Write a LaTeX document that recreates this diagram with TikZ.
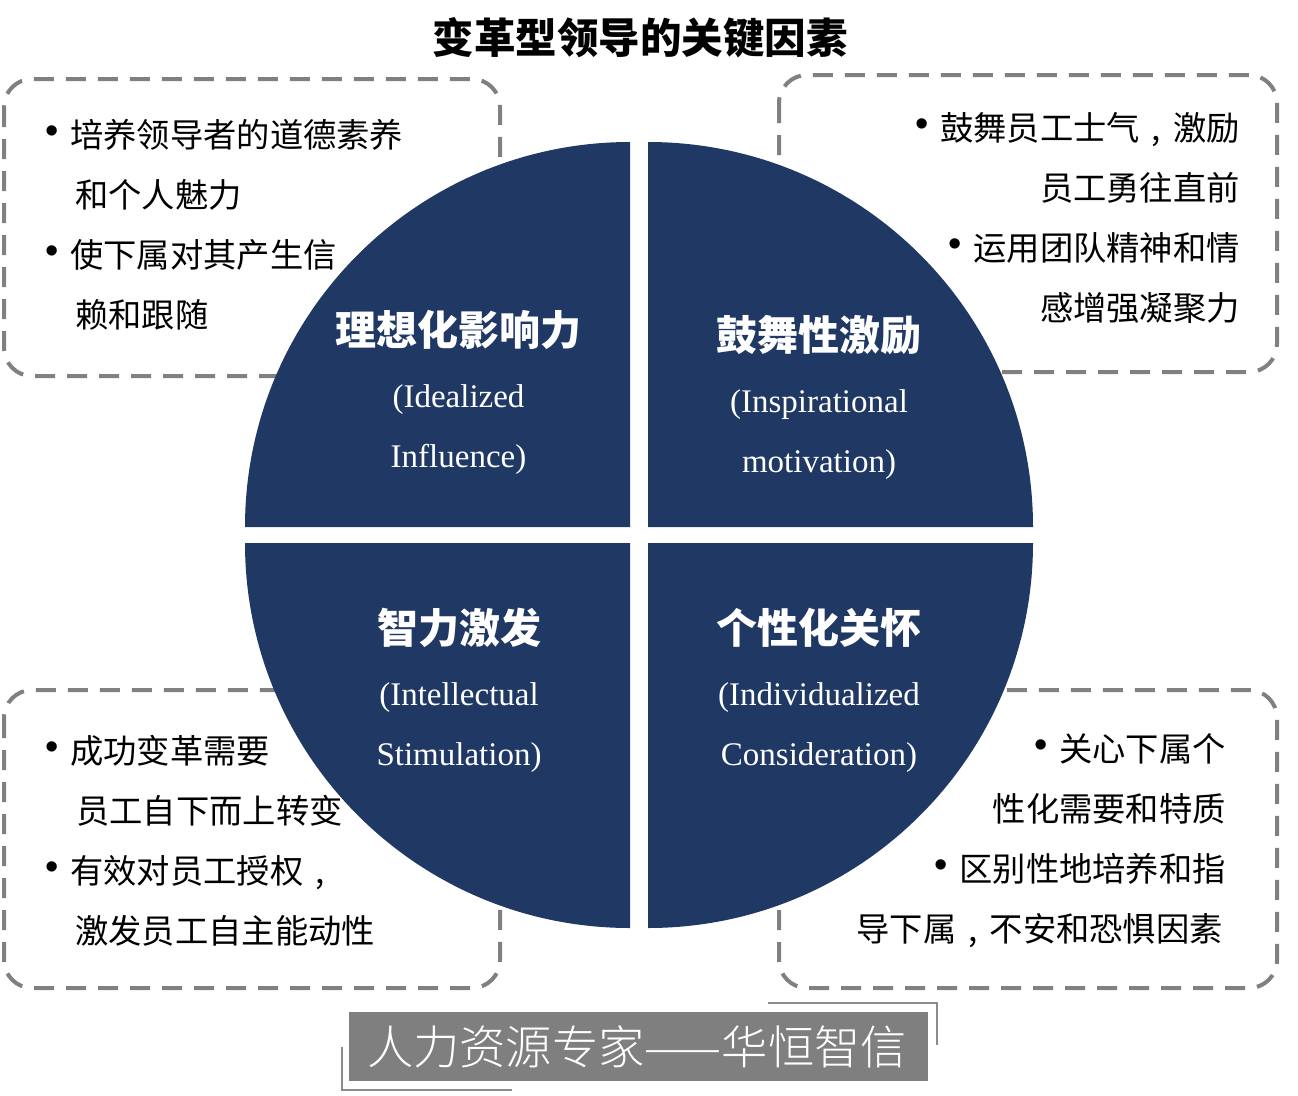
\documentclass[tikz,border=0pt]{standalone}
\usepackage{fontspec}
\setmainfont{Liberation Serif}
\newfontfamily\cjk{Noto Sans CJK SC}
\newfontfamily\cjkblack{Noto Sans CJK SC Black}
\newfontfamily\cjklight{Noto Sans CJK SC Light}
\newfontfamily\bulletfont{Liberation Sans}
\newcommand{\cmm}{\makebox[1em][c]{,}}
\definecolor{navy}{RGB}{32,56,100}
\definecolor{dashgray}{RGB}{128,128,128}
\definecolor{wmgray}{RGB}{127,127,127}
\definecolor{wmline}{RGB}{140,140,140}
\begin{document}
\begin{tikzpicture}[x=1pt,y=1pt,
  dashbox/.style={draw=dashgray, line width=4pt, dash pattern=on 20pt off 12pt, rounded corners=28pt},
  quad/.style={fill=navy},
  bodytext/.style={inner sep=0pt, font=\cjk\fontsize{33.3}{40}\selectfont, text=black},
  bul/.style={inner sep=0pt, font=\bulletfont\fontsize{38}{40}\selectfont, text=black},
  headcn/.style={inner sep=0pt, anchor=base, font=\cjkblack\fontsize{41}{48}\selectfont, text=white},
  headen/.style={inner sep=0pt, anchor=base, font=\fontsize{33}{40}\selectfont, text=white},
  titletext/.style={inner sep=0pt, anchor=base, font=\cjkblack\fontsize{41.5}{48}\selectfont, text=black},
  wmtext/.style={inner sep=0pt, anchor=base, font=\cjklight\fontsize{46.3}{50}\selectfont, text=white},
  wmbracket/.style={draw=wmline, line width=2pt}
]
\useasboundingbox (0,0) rectangle (1298,-1095);
\fill[white] (0,0) rectangle (1298,-1095);

% title
\node[titletext] (title) at (640,-53.5) {变革型领导的关键因素};

% dashed boxes
\draw[dashbox] (4,-79) rectangle (500,-376);
\draw[dashbox] (779,-75) rectangle (1277,-372);
\draw[dashbox] (4,-690) rectangle (500,-988);
\draw[dashbox] (779,-690) rectangle (1277,-988);

% quadrants
\fill[quad] (630,-527) -- (245,-527) arc[start angle=180, end angle=90, radius=385] -- cycle;
\fill[quad] (648,-527) -- (648,-142) arc[start angle=90, end angle=0, radius=385] -- cycle;
\fill[quad] (630,-543) -- (245,-543) arc[start angle=180, end angle=270, radius=385] -- cycle;
\fill[quad] (648,-543) -- (1033,-543) arc[start angle=0, end angle=-90, radius=385] -- cycle;

% quadrant headings
\node[headcn] (h1) at (458.5,-345) {理想化影响力};
\node[headen] (h1a) at (458.5,-407) {(Idealized};
\node[headen] (h1b) at (458.5,-467) {Influence)};

\node[headcn] (h2) at (819,-350) {鼓舞性激励};
\node[headen] (h2a) at (819,-412) {(Inspirational};
\node[headen] (h2b) at (819,-472) {motivation)};

\node[headcn] (h3) at (459,-643) {智力激发};
\node[headen] (h3a) at (459,-705) {(Intellectual};
\node[headen] (h3b) at (459,-765) {Stimulation)};

\node[headcn] (h4) at (819,-643) {个性化关怀};
\node[headen] (h4a) at (819,-705) {(Individualized};
\node[headen] (h4b) at (819,-765) {Consideration)};

% top-left box text
\node[bodytext, anchor=base west] (a1) at (70,-147.5) {培养领导者的道德素养};
\node[bodytext, anchor=base west] (a2) at (75,-207.5) {和个人魅力};
\node[bodytext, anchor=base west] (a3) at (70,-267.5) {使下属对其产生信};
\node[bodytext, anchor=base west] (a4) at (75,-327.5) {赖和跟随};
\node[bul] (ba1) at (52,-135) {•};
\node[bul] (ba3) at (52,-255) {•};

% top-right box text
\node[bodytext, anchor=base east] (b1) at (1240,-140.5) {鼓舞员工士气\cmm 激励};
\node[bodytext, anchor=base east] (b2) at (1240,-200.5) {员工勇往直前};
\node[bodytext, anchor=base east] (b3) at (1240,-260.5) {运用团队精神和情};
\node[bodytext, anchor=base east] (b4) at (1240,-320.5) {感增强凝聚力};
\node[bul] (bb1) at ([xshift=-18pt,yshift=12.5pt]b1.base west) {•};
\node[bul] (bb3) at ([xshift=-18pt,yshift=12.5pt]b3.base west) {•};

% bottom-left box text
\node[bodytext, anchor=base west] (c1) at (70,-763.5) {成功变革需要};
\node[bodytext, anchor=base west] (c2) at (76,-823.5) {员工自下而上转变};
\node[bodytext, anchor=base west] (c3) at (70,-883.5) {有效对员工授权\cmm};
\node[bodytext, anchor=base west] (c4) at (75,-943.5) {激发员工自主能动性};
\node[bul] (bc1) at (52,-751) {•};
\node[bul] (bc3) at (52,-871) {•};

% bottom-right box text
\node[bodytext, anchor=base east] (d1) at (1226,-761) {关心下属个};
\node[bodytext, anchor=base east] (d2) at (1226,-821) {性化需要和特质};
\node[bodytext, anchor=base east] (d3) at (1226,-881) {区别性地培养和指};
\node[bodytext, anchor=base east] (d4) at (1223,-941) {导下属\cmm 不安和恐惧因素};
\node[bul] (bd1) at ([xshift=-18pt,yshift=12.5pt]d1.base west) {•};
\node[bul] (bd3) at ([xshift=-18pt,yshift=12.5pt]d3.base west) {•};

% watermark
\fill[wmgray] (349,-1012) rectangle (928,-1081);
\draw[wmbracket] (768,-1003) -- (937,-1003) -- (937,-1045);
\draw[wmbracket] (342,-1047) -- (342,-1090) -- (512,-1090);
\node[wmtext] (wm) at (637,-1064.5) {人力资源专家——华恒智信};
\end{tikzpicture}
\end{document}
